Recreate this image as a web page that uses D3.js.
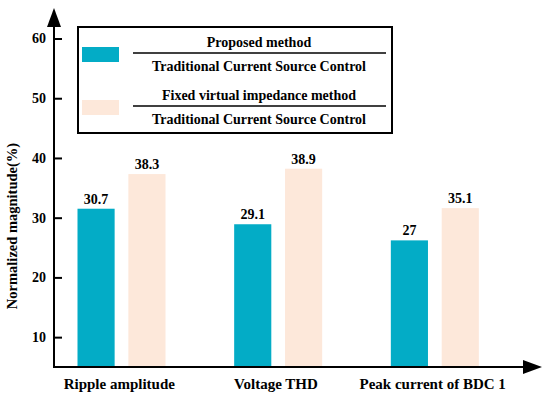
<!DOCTYPE html>
<html>
<head>
<meta charset="utf-8">
<script src="https://cdn.jsdelivr.net/npm/d3@7/dist/d3.min.js"></script>
<style>
	body{margin:0;background:#fff;}
</style>
</head>
<body>
<svg id="chart"></svg>
<script>
var categories=["Ripple amplitude","Voltage THD","Peak current of BDC 1"];
var series=["proposed","fixed"];
// bar heights as drawn, and the numbers printed above them
var proposedValues=[31.5,28.9,26.2];
var fixedValues=[37.3,38.2,31.6];
var proposedLabels=["30.7","29.1","27"];
var fixedLabels=["38.3","38.9","35.1"];
var yTicks=[10,20,30,40,50,60];
var legendTop=["Proposed method","Fixed virtual impedance method"];
var legendBottom=["Traditional Current Source Control","Traditional Current Source Control"];
var colors=["#03acc6","#fde8da"];

var width=550,height=398;
var font="Liberation Serif";
var svg=d3.select("#chart").attr("width",width).attr("height",height);

function label(sel,size){
	return sel.attr("font-family",font).attr("font-weight","bold").attr("font-size",size).attr("fill","#000");
}

var axisX=54,axisY=367;

var y=d3.scaleLinear().domain([5,60]).range([axisY,38.5]);
var x=d3.scaleBand().domain(categories).range([43,513]);
var xs=d3.scaleBand().domain(series).range([34.5,122.5]).paddingInner(0.27);

var rows=categories.map(function(c,i){
	return [
		{cat:c,s:"proposed",v:proposedValues[i],label:proposedLabels[i]},
		{cat:c,s:"fixed",v:fixedValues[i],label:fixedLabels[i]}
	];
});
var flat=[].concat.apply([],rows);

//bars
svg.selectAll(".bar").data(flat).enter().append("rect")
	.attr("class","bar")
	.attr("x",function(d){return x(d.cat)+xs(d.s);})
	.attr("y",function(d){return y(d.v);})
	.attr("width",xs.bandwidth())
	.attr("height",function(d){return axisY-y(d.v);})
	.attr("fill",function(d){return colors[series.indexOf(d.s)];});

label(svg.selectAll(".vlabel").data(flat).enter().append("text"),"14px")
	.attr("class","vlabel")
	.attr("x",function(d){return x(d.cat)+xs(d.s)+xs.bandwidth()/2;})
	.attr("y",function(d){return y(d.v)-5;})
	.attr("text-anchor","middle")
	.text(function(d){return d.label;});

//y axis
var yAxis=d3.axisLeft(y).tickValues(yTicks).tickSizeInner(-8).tickSizeOuter(0).tickPadding(8);
var gy=svg.append("g").attr("transform","translate("+axisX+",0)").call(yAxis);
gy.select(".domain").remove();
gy.selectAll(".tick line").attr("stroke","#000").attr("stroke-width",2);
label(gy.selectAll(".tick text"),"14px");

svg.append("line").attr("x1",axisX).attr("x2",axisX).attr("y1",axisY+1).attr("y2",26)
	.attr("stroke","#000").attr("stroke-width",2);
svg.append("path").attr("d","M"+axisX+",8L"+(axisX-7)+",27L"+(axisX+7)+",27Z").attr("fill","#000");

//x axis
svg.append("line").attr("x1",axisX-1).attr("x2",524).attr("y1",axisY).attr("y2",axisY)
	.attr("stroke","#000").attr("stroke-width",2);
svg.append("path").attr("d","M542,"+axisY+"L523,"+(axisY-7)+"L523,"+(axisY+7)+"Z").attr("fill","#000");

label(svg.selectAll(".xlabel").data(categories).enter().append("text"),"15px")
	.attr("class","xlabel")
	.attr("x",function(d){return x(d)+x.bandwidth()/2-2;})
	.attr("y",389)
	.attr("text-anchor","middle")
	.text(function(d){return d;});

label(svg.append("text"),"14.5px")
	.attr("transform","translate(17,226) rotate(-90)")
	.attr("text-anchor","middle")
	.text("Normalized magnitude(%)");

//legend
var lg=svg.append("g");
lg.append("rect").attr("x",78).attr("y",27).attr("width",314).attr("height",106)
	.attr("fill","#fff").attr("stroke","#000").attr("stroke-width",2);
series.forEach(function(s,i){
	var top=i*53;
	lg.append("rect").attr("x",82).attr("y",47+top).attr("width",37).attr("height",15).attr("fill",colors[i]);
	label(lg.append("text"),"14px").attr("x",259).attr("y",47+top).attr("text-anchor","middle").text(legendTop[i]);
	lg.append("line").attr("x1",133).attr("x2",386).attr("y1",53+top).attr("y2",53+top)
		.attr("stroke","#000").attr("stroke-width",1.3);
	label(lg.append("text"),"14px").attr("x",259).attr("y",71+top).attr("text-anchor","middle").text(legendBottom[i]);
});
</script>
</body>
</html>
